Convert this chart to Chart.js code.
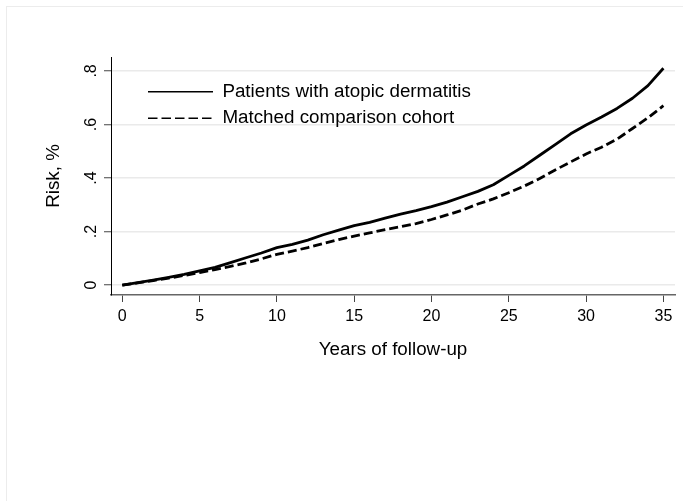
<!DOCTYPE html>
<html><head><meta charset="utf-8">
<script src="https://cdn.jsdelivr.net/npm/chart.js@4"></script>
<style>html,body{margin:0;padding:0;background:#fff;overflow:hidden}#wrap{width:683px;height:501px}</style>
</head><body><div id="wrap"><canvas id="c" width="683" height="501"></canvas></div>
<script>
const years = [0,1,2,3,4,5,6,7,8,9,10,11,12,13,14,15,16,17,18,19,20,21,22,23,24,25,26,27,28,29,30,31,32,33,34,35];
const adRisk = [0,0.009,0.019,0.029,0.040,0.053,0.066,0.084,0.102,0.120,0.140,0.152,0.168,0.188,0.205,0.222,0.234,0.250,0.265,0.278,0.293,0.310,0.330,0.350,0.375,0.410,0.445,0.485,0.525,0.565,0.598,0.628,0.660,0.698,0.745,0.810];
const cohortRisk = [0,0.008,0.017,0.026,0.036,0.047,0.058,0.070,0.083,0.098,0.115,0.127,0.140,0.155,0.170,0.183,0.195,0.207,0.218,0.230,0.245,0.262,0.280,0.303,0.322,0.345,0.370,0.398,0.430,0.460,0.490,0.515,0.545,0.585,0.625,0.670];
const xTicks = [0,5,10,15,20,25,30,35];
const yTicks = [0,0.2,0.4,0.6,0.8];
const yTickLabels = ['0','.2','.4','.6','.8'];
const seriesLabels = ['Patients with atopic dermatitis','Matched comparison cohort'];
const xTitle = 'Years of follow-up';
const yTitle = 'Risk, %';

const FONT = '"Liberation Sans", Arial, Helvetica, sans-serif';

const framePlugin = {
  id: 'frame',
  beforeDraw(chart) {
    const ctx = chart.ctx;
    ctx.save();
    ctx.fillStyle = '#ffffff';
    ctx.fillRect(0, 0, chart.width, chart.height);
    ctx.strokeStyle = '#ececec';
    ctx.lineWidth = 1;
    ctx.strokeRect(6.5, 6.5, chart.width + 20, chart.height + 20);
    ctx.restore();
  }
};
const legendPlace = {
  id: 'legendPlace',
  afterLayout(chart) {
    const lg = chart.legend;
    if (!lg) return;
    lg.left = 140.2; lg.top = 74.5;
    lg.right = lg.left + lg.width; lg.bottom = lg.top + lg.height;
  }
};

const toPts = (arr) => years.map((x, i) => ({x, y: arr[i]}));

new Chart(document.getElementById('c'), {
  type: 'line',
  data: {
    datasets: [
      {label: seriesLabels[0], data: toPts(adRisk), borderColor: '#000', borderWidth: 2.8, pointRadius: 0, tension: 0, fill: false, borderJoinStyle: 'round'},
      {label: seriesLabels[1], data: toPts(cohortRisk), borderColor: '#000', borderWidth: 2.8, borderDash: [9, 4], pointRadius: 0, tension: 0, fill: false}
    ]
  },
  options: {
    responsive: false,
    animation: false,
    devicePixelRatio: 1,
    layout: {padding: {left: 0, right: 8, top: 57, bottom: 0}},
    plugins: {
      tooltip: {enabled: false},
      legend: {
        position: 'chartArea',
        align: 'start',
        labels: {
          usePointStyle: true,
          pointStyleWidth: 65,
          padding: 7.8,
          color: '#000',
          font: {family: FONT, size: 18.8},
          generateLabels(chart) {
            return chart.data.datasets.map((d, i) => ({
              text: d.label,
              fillStyle: 'rgba(0,0,0,0)',
              strokeStyle: '#000',
              lineWidth: 1.5,
              lineDash: i === 1 ? [9.5, 4] : [],
              pointStyle: 'line',
              fontColor: '#000',
              hidden: false,
              datasetIndex: i
            }));
          }
        }
      }
    },
    scales: {
      x: {
        type: 'linear',
        min: -0.73, max: 35.75,
        afterBuildTicks: s => { s.ticks = xTicks.map(v => ({value: v})); },
        afterFit: s => { s.height = 206; },
        grid: {drawOnChartArea: false, drawTicks: true, tickLength: 7, tickColor: '#444', tickWidth: 1},
        border: {display: true, color: '#666', width: 1.5},
        ticks: {color: '#000', font: {family: FONT, size: 16}, padding: 4.5, maxRotation: 0, minRotation: 0, callback: v => String(v)},
        title: {display: true, text: xTitle, color: '#000', font: {family: FONT, size: 18.8}, padding: {top: 0, bottom: 139.7}}
      },
      y: {
        type: 'linear',
        min: -0.037, max: 0.852,
        afterBuildTicks: s => { s.ticks = yTicks.map(v => ({value: v})); },
        afterFit: s => { s.width = 111; },
        grid: {color: '#eaeaea', lineWidth: 1.5, drawTicks: true, tickLength: 7, tickColor: '#444', tickWidth: 1},
        border: {display: true, color: '#000', width: 1},
        ticks: {color: '#000', font: {family: FONT, size: 16}, padding: 5.5, minRotation: 90, maxRotation: 90, crossAlign: 'center',
          callback: v => { const k = yTicks.findIndex(t => Math.abs(t - v) < 1e-9); return k >= 0 ? yTickLabels[k] : ''; }},
        title: {display: true, text: yTitle, color: '#000', font: {family: FONT, size: 18.8}, padding: {top: 42.5, bottom: 0}}
      }
    }
  },
  plugins: [framePlugin, legendPlace]
});
</script></body></html>
